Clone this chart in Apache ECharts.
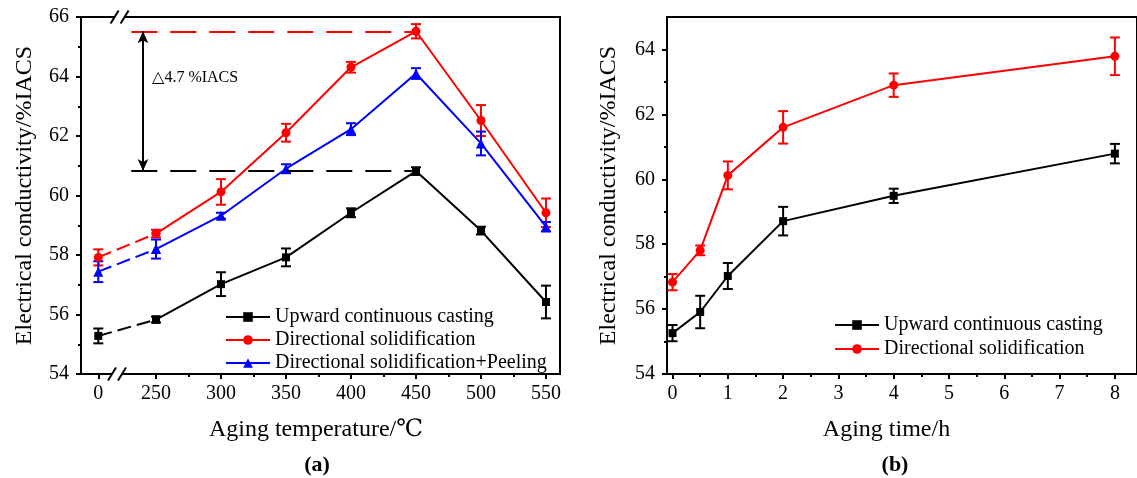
<!DOCTYPE html>
<html>
<head>
<meta charset="utf-8">
<script src="https://cdn.jsdelivr.net/npm/echarts@6/dist/echarts.min.js"></script>
<style>
html,body{margin:0;padding:0;background:#fff;}
#c{width:1137px;height:478px;}
</style>
</head>
<body>
<div id="c"></div>
<script>
// ---------- data ----------
const tempLabels = [0, 250, 300, 350, 400, 450, 500, 550];
const ucTemp     = [55.28, 55.83, 57.02, 57.92, 59.42, 60.82, 58.82, 56.42];
const ucTempErr  = [0.25, 0.10, 0.40, 0.30, 0.15, 0.13, 0.13, 0.55];
const dsTemp     = [57.92, 58.72, 60.12, 62.11, 64.31, 65.52, 62.52, 59.42];
const dsTempErr  = [0.27, 0.13, 0.43, 0.30, 0.18, 0.24, 0.52, 0.48];
const dspTemp    = [57.44, 58.20, 59.32, 60.90, 62.23, 64.10, 61.75, 58.95];
const dspTempErr = [0.35, 0.32, 0.10, 0.15, 0.20, 0.18, 0.40, 0.16];

const times      = [0, 0.5, 1, 2, 4, 8];
const ucTime     = [55.26, 55.91, 57.02, 58.71, 59.49, 60.79];
const ucTimeErr  = [0.25, 0.50, 0.40, 0.44, 0.22, 0.30];
const dsTime     = [56.83, 57.81, 60.12, 61.60, 62.90, 63.79];
const dsTimeErr  = [0.25, 0.15, 0.43, 0.50, 0.36, 0.58];

const yTicksA = [54, 56, 58, 60, 62, 64, 66];
const yTicksB = [54, 56, 58, 60, 62, 64];
const yMinorB = [55, 57, 59, 61, 63];
const xTicksB = [0, 1, 2, 3, 4, 5, 6, 7, 8];
const xMinorB = [0.5, 1.5, 2.5, 3.5, 4.5, 5.5, 6.5, 7.5];
const xMinorA = [275, 325, 375, 425, 475, 525];

const names = ['Upward continuous casting', 'Directional solidification', 'Directional solidification+Peeling'];

// ---------- layout helpers ----------
const FONT = "'Liberation Serif', 'DejaVu Serif', 'Noto Sans CJK SC', serif";
const ZERO_POS = 205.6;   // broken-axis position used for the 0 °C sample
const tPos = t => (t === 0 ? ZERO_POS : t);
const BREAK_X = 222;

const pts = (xs, ys) => xs.map((x, i) => [x, ys[i]]);
const errPts = (xs, ys, es) => xs.map((x, i) => [x, ys[i], es[i]]);

function errSeries(xIdx, yIdx, data, color) {
  return {
    type: 'custom', xAxisIndex: xIdx, yAxisIndex: yIdx, z: 3, silent: true,
    encode: { x: 0, y: 1 },
    data: data,
    renderItem: function (params, api) {
      const x = api.value(0), y = api.value(1), e = api.value(2);
      const t = api.coord([x, y + e]);
      const b = api.coord([x, y - e]);
      const hw = 5;
      const st = { stroke: color, lineWidth: 2 };
      return { type: 'group', children: [
        { type: 'line', shape: { x1: t[0], y1: t[1], x2: b[0], y2: b[1] }, style: st },
        { type: 'line', shape: { x1: t[0] - hw, y1: t[1], x2: t[0] + hw, y2: t[1] }, style: st },
        { type: 'line', shape: { x1: b[0] - hw, y1: b[1], x2: b[0] + hw, y2: b[1] }, style: st }
      ]};
    }
  };
}

function lineSeries(name, xIdx, yIdx, data, color, symbol, size, dashed) {
  return {
    name: name, type: 'line', xAxisIndex: xIdx, yAxisIndex: yIdx,
    data: data, symbol: symbol, symbolSize: size, z: 4,
    lineStyle: { color: color, width: 2, type: dashed ? [14, 6] : 'solid' },
    itemStyle: { color: color },
    emphasis: { disabled: true }
  };
}

const tX = tempLabels.map(tPos);
const ucMax = Math.max(...ucTemp);
const dsMax = Math.max(...dsTemp);
const tAtMax = tX[dsTemp.indexOf(dsMax)];
const REF_START = 231, ARROW_X = 240;

const axisFont = { fontFamily: FONT, fontSize: 20, color: '#000' };
const nameFont = { fontFamily: FONT, fontSize: 24, color: '#000' };
const axLine = { show: true, onZero: false, lineStyle: { color: '#000', width: 2 } };
const noLine = { show: false, onZero: false };

const seriesList = [];
// panel (a)
const defsA = [
  [names[0], ucTemp, ucTempErr, '#000000', 'rect', 8],
  [names[1], dsTemp, dsTempErr, '#ff0000', 'circle', 9],
  [names[2], dspTemp, dspTempErr, '#0000ff', 'triangle', 10]
];
defsA.forEach(d => {
  const all = pts(tX, d[1]);
  seriesList.push(lineSeries(d[0], 0, 0, all.slice(1), d[3], d[4], d[5], false));
  seriesList.push(lineSeries(d[0], 0, 0, all.slice(0, 2), d[3], d[4], d[5], true));
  seriesList.push(errSeries(0, 0, errPts(tX, d[1], d[2]), d[3]));
});
// reference dashed lines, arrow and annotation
seriesList[0].markLine = {
  silent: true, animation: false, label: { show: false },
  data: [
    [{ coord: [REF_START, dsMax], symbol: 'none', lineStyle: { color: '#ff0000', width: 2, type: [26, 13] } },
     { coord: [tAtMax, dsMax], symbol: 'none' }],
    [{ coord: [REF_START, ucMax], symbol: 'none', lineStyle: { color: '#000', width: 2, type: [26, 13] } },
     { coord: [tAtMax, ucMax], symbol: 'none' }],
    [{ coord: [ARROW_X, dsMax], symbol: 'arrow', symbolSize: [8, 12], lineStyle: { color: '#000', width: 2, type: 'solid' } },
     { coord: [ARROW_X, ucMax], symbol: 'arrow', symbolSize: [8, 12] }]
  ]
};
seriesList[0].markPoint = {
  silent: true, animation: false,
  data: [{ coord: [247, (dsMax + ucMax) / 2 + 0.8], symbol: 'circle', symbolSize: 0,
    label: { show: true, position: 'right', distance: 0, formatter: '\u25B3' + (dsMax - ucMax).toFixed(1) + ' %IACS',
      fontFamily: FONT, fontSize: 16, color: '#000' } }]
};
// panel (b)
seriesList.push(lineSeries(names[0], 2, 1, pts(times, ucTime), '#000000', 'rect', 8, false));
seriesList.push(errSeries(2, 1, errPts(times, ucTime, ucTimeErr), '#000000'));
seriesList.push(lineSeries(names[1], 2, 1, pts(times, dsTime), '#ff0000', 'circle', 9, false));
seriesList.push(errSeries(2, 1, errPts(times, dsTime, dsTimeErr), '#ff0000'));

const tick = (len, vals) => ({ show: true, inside: false, length: len, lineStyle: { width: 2, color: '#000' }, customValues: vals });

const option = {
  animation: false,
  backgroundColor: '#fff',
  grid: [
    { left: 81, top: 17, width: 479, height: 357, show: true, borderColor: '#000', borderWidth: 2, backgroundColor: 'transparent' },
    { left: 667, top: 17, width: 472, height: 357, show: true, borderColor: '#000', borderWidth: 2, backgroundColor: 'transparent' }
  ],
  xAxis: [
    { type: 'value', gridIndex: 0, position: 'bottom', offset: 0, min: 192.3, max: 560.8,
      axisLine: axLine, splitLine: { show: false },
      axisTick: tick(5, tX),
      axisLabel: { ...axisFont, margin: 10, customValues: tX, formatter: v => (v === ZERO_POS ? '0' : String(v)) },
      name: 'Aging temperature/\u2103', nameLocation: 'middle', nameGap: 44, nameTextStyle: { ...nameFont, padding: [0, 9, 0, 0] } },
    { type: 'value', gridIndex: 0, position: 'bottom', offset: 0, min: 192.3, max: 560.8,
      axisLine: noLine, splitLine: { show: false },
      axisTick: tick(3, xMinorA), axisLabel: { show: false } },
    { type: 'value', gridIndex: 1, position: 'bottom', offset: 0, min: -0.1, max: 8.4,
      axisLine: axLine, splitLine: { show: false },
      axisTick: tick(5, xTicksB),
      axisLabel: { ...axisFont, margin: 10, customValues: xTicksB },
      name: 'Aging time/h', nameLocation: 'middle', nameGap: 44, nameTextStyle: { ...nameFont, padding: [0, 31, 0, 0] } },
    { type: 'value', gridIndex: 1, position: 'bottom', offset: 0, min: -0.1, max: 8.4,
      axisLine: noLine, splitLine: { show: false },
      axisTick: tick(3, xMinorB), axisLabel: { show: false } }
  ],
  yAxis: [
    { type: 'value', gridIndex: 0, position: 'left', offset: 0, min: 54, max: 66, interval: 2,
      axisLine: axLine, splitLine: { show: false },
      axisTick: { show: true, length: 5, lineStyle: { width: 2, color: '#000' } },
      minorTick: { show: true, splitNumber: 2, length: 3, lineStyle: { width: 2, color: '#000' } },
      axisLabel: { ...axisFont, margin: 12, customValues: yTicksA },
      name: 'Electrical conductivity/%IACS', nameLocation: 'middle', nameGap: 44, nameRotate: 90, nameTextStyle: nameFont },
    { type: 'value', gridIndex: 1, position: 'left', offset: 0, min: 54, max: 65,
      axisLine: axLine, splitLine: { show: false },
      axisTick: tick(5, yTicksB),
      axisLabel: { ...axisFont, margin: 12, customValues: yTicksB },
      name: 'Electrical conductivity/%IACS', nameLocation: 'middle', nameGap: 46, nameRotate: 90, nameTextStyle: nameFont },
    { type: 'value', gridIndex: 1, position: 'left', offset: 0, min: 54, max: 65,
      axisLine: noLine, splitLine: { show: false },
      axisTick: tick(3, yMinorB), axisLabel: { show: false } }
  ],
  legend: [
    { data: names, left: 220, top: 302, orient: 'vertical', itemWidth: 44, itemHeight: 12, itemGap: 3,
      textStyle: { fontFamily: FONT, fontSize: 20, color: '#000' }, selectedMode: false },
    { data: names.slice(0, 2), left: 829, top: 310, orient: 'vertical', itemWidth: 44, itemHeight: 12, itemGap: 4,
      textStyle: { fontFamily: FONT, fontSize: 20, color: '#000' }, selectedMode: false }
  ],
  series: seriesList
};

const chart = echarts.init(document.getElementById('c'), null, { renderer: 'canvas' });
chart.setOption(option);

// axis-break marks and panel labels
function breakMark(p) {
  const cx = p[0], cy = p[1];
  const st = { stroke: '#000', lineWidth: 2 };
  return [
    { type: 'rect', shape: { x: cx - 5, y: cy - 2, width: 10, height: 4 }, style: { fill: '#fff' }, z: 100 },
    { type: 'line', shape: { x1: cx - 9, y1: cy + 6.5, x2: cx - 1, y2: cy - 6.5 }, style: st, z: 101 },
    { type: 'line', shape: { x1: cx + 1, y1: cy + 6.5, x2: cx + 9, y2: cy - 6.5 }, style: st, z: 101 }
  ];
}
const topB = chart.convertToPixel({ xAxisIndex: 0, yAxisIndex: 0 }, [BREAK_X, 66]);
const botB = chart.convertToPixel({ xAxisIndex: 0, yAxisIndex: 0 }, [BREAK_X - 2, 54]);
chart.setOption({
  graphic: [
    ...breakMark(topB), ...breakMark(botB),
    { type: 'text', x: 317, y: 465, z: 100, style: { text: '(a)', fontFamily: FONT, fontSize: 22, fontWeight: 'bold', fill: '#000', align: 'center', verticalAlign: 'middle' } },
    { type: 'text', x: 895, y: 465, z: 100, style: { text: '(b)', fontFamily: FONT, fontSize: 22, fontWeight: 'bold', fill: '#000', align: 'center', verticalAlign: 'middle' } }
  ]
});
</script>
</body>
</html>
